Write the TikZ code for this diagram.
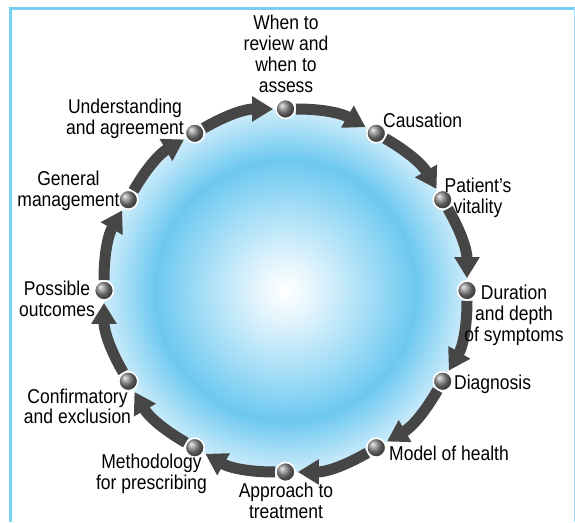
\documentclass[tikz,border=0pt]{standalone}
\usepackage{fontspec}
\setmainfont{Liberation Sans}[FakeStretch=0.875]
\usetikzlibrary{arrows.meta,calc,backgrounds}
\definecolor{bordercol}{RGB}{120,208,245}
\definecolor{arrowcol}{RGB}{70,70,70}
\definecolor{diskA}{RGB}{228,245,253}
\definecolor{diskB}{RGB}{160,220,246}
\definecolor{diskC}{RGB}{108,200,240}
\definecolor{diskD}{RGB}{205,236,250}
\pgfdeclareradialshading{diskshade}{\pgfpoint{0bp}{0bp}}{color(0bp)=(white); color(4bp)=(diskA); color(12bp)=(diskB); color(18bp)=(diskC); color(25bp)=(diskD); color(50bp)=(diskD)}
\begin{document}
\begin{tikzpicture}[x=1pt,y=1pt,
 ball/.style={circle, draw=white, line width=1.6pt, minimum size=19pt, inner sep=0pt, shading=ball, ball color=black!50},
 lbl/.style={font=\fontsize{20}{20.8}\selectfont, inner sep=0pt, align=center},
 arr/.style={draw=arrowcol, line width=11pt, -{Triangle[length=21pt,width=24pt]}, shorten >=2pt, bend left=15}]
\useasboundingbox (0,0) rectangle (575,522);
\coordinate (c) at (285.5,231.5);
\foreach \k in {0,...,11} { \node[ball] (b\k) at ($(c)+({90-30*\k}:181.5)$) {}; }

\begin{scope}[on background layer]
  \shade[shading=diskshade] (c) circle[radius=181.5];
  \foreach \k/\n in {0/1,1/2,2/3,3/4,4/5,5/6,6/7,7/8,8/9,9/10,10/11,11/0}
    \draw[arr] (b\k) to (b\n);
  \coordinate (tl) at (9,513.5);
  \coordinate (tr) at (575,513.5);
  \coordinate (lt) at (10.5,514.7);
  \coordinate (lb) at (10.5,0);
  \coordinate (rt) at (574.2,513.5);
  \coordinate (rb) at (574.2,0);
  \draw[bordercol, line width=2.5pt] (tl) -- (tr);
  \draw[bordercol, line width=2.5pt] (lt) -- (lb);
  \draw[bordercol!70, line width=1pt] (rt) -- (rb);
\end{scope}

\node[lbl, anchor=north] (t0) at (286,507) {When to\\review and\\when to\\assess};
\node[lbl, anchor=base west] (t1) at (383,394.7) {Causation};
\node[lbl, anchor=north] (t2) at (478,344.3) {Patient’s\\vitality};
\node[lbl, anchor=north] (t3) at (514,237) {Duration\\and depth\\of symptoms};
\node[lbl, anchor=base west] (t4) at (454,132) {Diagnosis};
\node[lbl, anchor=base west] (t5) at (389,61.3) {Model of health};
\node[lbl, anchor=north] (t6) at (286,39.3) {Approach to\\treatment};
\node[lbl, anchor=north] (t7) at (151.5,67.7) {Methodology\\for prescribing};
\node[lbl, anchor=north] (t8) at (77.5,133.6) {Confirmatory\\and exclusion};
\node[lbl, anchor=north] (t9) at (57,241.3) {Possible\\outcomes};
\node[lbl, anchor=north] (t10) at (68.5,351.3) {General\\management};
\node[lbl, anchor=north] (t11) at (125,423) {Understanding\\and agreement};
\end{tikzpicture}
\end{document}
